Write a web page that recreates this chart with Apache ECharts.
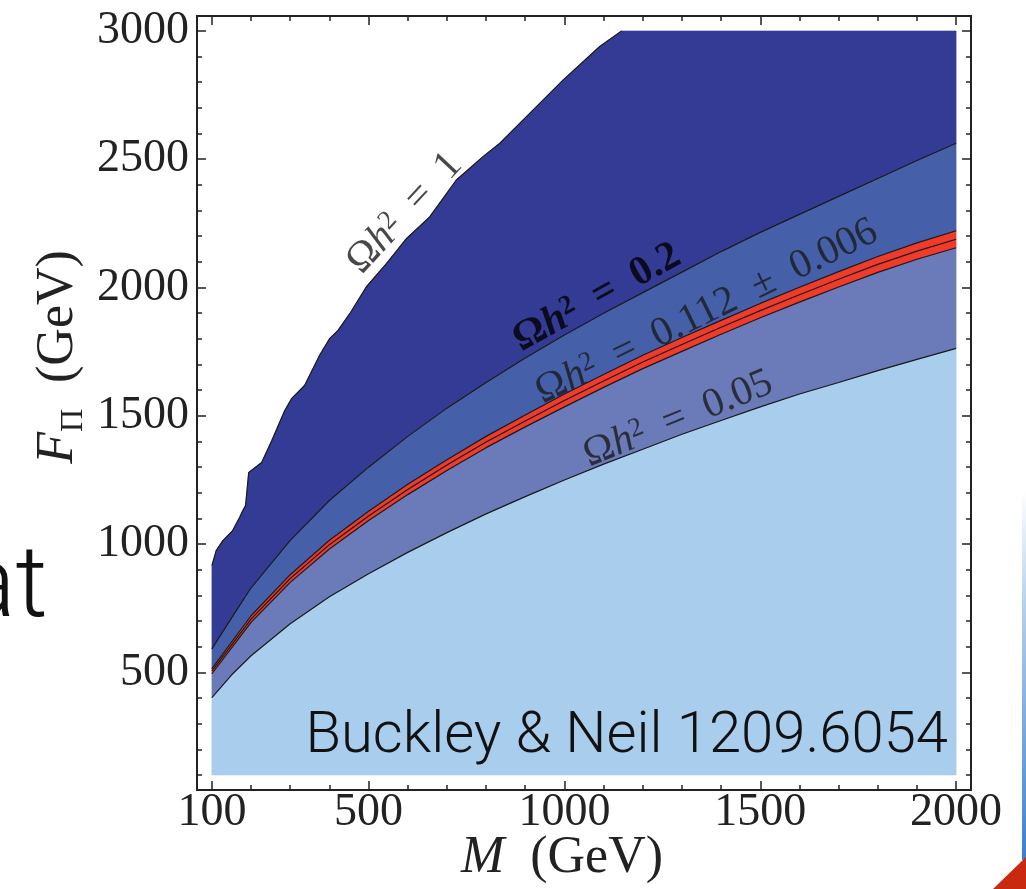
<!DOCTYPE html>
<html><head><meta charset="utf-8">
<script src="https://cdn.jsdelivr.net/npm/echarts@6/dist/echarts.min.js"></script>
<style>html,body{margin:0;padding:0;background:#fff}#c{width:1026px;height:889px}</style>
</head><body><div id="c"></div>
<script>
// ---- tick values ----
const xMajor = [100, 500, 1000, 1500, 2000];
const xMinor = [100,200,300,400,500,600,700,800,900,1000,1100,1200,1300,1400,1500,1600,1700,1800,1900,2000];
const yMajor = [500, 1000, 1500, 2000, 2500, 3000];
const yMinor = [100,200,300,400,500,600,700,800,900,1000,1100,1200,1300,1400,1500,1600,1700,1800,1900,2000,2100,2200,2300,2400,2500,2600,2700,2800,2900,3000];

// ---- contour curves [M, F_Pi] ----
const omega1 = [[100,916],[111,975],[128,1014],[153,1053],[171,1105],[179,1131],[186,1150],[194,1279],[227,1318],[253,1404],[286,1521],[304,1568],[337,1619],[375,1736],[401,1802],[422,1833],[452,1898],[494,2002],[546,2094],[597,2191],[656,2275],[724,2419],[792,2510],[835,2562],[903,2666],[997,2809],[1090,2939],[1146,3000]];
const omega02 = [[100,592],[150,712],[200,830],[300,1015],[400,1170],[500,1300],[600,1420],[700,1530],[800,1630],[900,1725],[1000,1815],[1100,1900],[1200,1980],[1300,2060],[1400,2140],[1500,2215],[1600,2285],[1700,2355],[1800,2425],[1900,2495],[2000,2562]];
const redUpper = [[100,515],[200,721],[300,881],[400,1015],[500,1128],[600,1233],[700,1329],[800,1420],[900,1503],[1000,1585],[1100,1661],[1200,1736],[1300,1805],[1400,1872],[1500,1938],[1600,2001],[1700,2062],[1800,2121],[1900,2174],[2000,2221]];
const redCentre = [[100,505],[200,708],[300,866],[400,998],[500,1110],[600,1213],[700,1308],[800,1398],[900,1480],[1000,1560],[1100,1636],[1200,1710],[1300,1778],[1400,1845],[1500,1910],[1600,1972],[1700,2032],[1800,2090],[1900,2142],[2000,2188]];
const redLower = [[100,495],[200,695],[300,851],[400,981],[500,1092],[600,1193],[700,1287],[800,1376],[900,1457],[1000,1535],[1100,1611],[1200,1684],[1300,1751],[1400,1818],[1500,1882],[1600,1943],[1700,2002],[1800,2059],[1900,2110],[2000,2155]];
const omega005 = [[100,402],[150,490],[200,565],[300,690],[400,795],[500,885],[600,968],[700,1045],[800,1118],[900,1185],[1000,1250],[1100,1312],[1200,1370],[1300,1428],[1400,1482],[1500,1535],[1600,1585],[1700,1630],[1800,1676],[1900,1720],[2000,1763]];
const scanFloor = [[100,100],[2000,100]];
const scanTopRight = [[2000,3000]];

// ---- curve labels (anchor in data coords) ----
const curveLabels = [
  {text:'{r|Ω}{i|h}{s|2}{r|\u2002=\u20021}', at:[592,2290], angle:47},
  {text:'{rb|Ω}{ib|h}{sb|2}{rb|\u2002=\u20020.2}', at:[1083,1960], angle:29},
  {text:'{r|Ω}{i|h}{s|2}{r|\u2002=\u20020.112\u2002±\u20020.006}', at:[1363,1905], angle:26},
  {text:'{r|Ω}{i|h}{s|2}{r|\u2002=\u20020.05}', at:[1290,1487], angle:22}
];

const bands = [
  {upper: omega005, lower: scanFloor, color:'#a9cdec'},
  {upper: redLower, lower: omega005, color:'#6b7ab8'},
  {upper: redUpper, lower: redLower, color:'#f03a2a'},
  {upper: omega02, lower: redUpper, color:'#4560a8'},
  {upper: omega1.concat(scanTopRight), lower: omega02, color:'#343b95'}
];

const serif = 'Liberation Serif';
const ink = '#1a1a1a';
const G = {left:197, top:16, width:774, height:774};

function fmt(v){ return String(Math.round(v)); }
function xAx(grid, pos, ticks, len, labels){
  return {type:'value', gridIndex:grid, position:pos, min:62, max:2038,
    axisLine:{show:true, onZero:false, lineStyle:{color:'#222', width:2}},
    axisTick:{show:true, inside:true, length:len, customValues:ticks, lineStyle:{color:'#222', width:1.5}},
    axisLabel:{show:labels, customValues:ticks, formatter:fmt, fontFamily:serif, fontSize:46, color:'#222', margin:0},
    splitLine:{show:false}};
}
function yAx(grid, pos, ticks, len, labels){
  return {type:'value', gridIndex:grid, position:pos, min:42, max:3058,
    axisLine:{show:true, onZero:false, lineStyle:{color:'#222', width:2}},
    axisTick:{show:true, inside:true, length:len, customValues:ticks, lineStyle:{color:'#222', width:1.5}},
    axisLabel:{show:labels, customValues:ticks, formatter:fmt, fontFamily:serif, fontSize:46, color:'#222', margin:8},
    splitLine:{show:false}};
}

function lineSeries(d){
  return {type:'line', xAxisIndex:0, yAxisIndex:0, data:d, symbol:'none', silent:true,
    lineStyle:{color:ink, width:1.2}, z:4, animation:false};
}

const FS = 41;
const labRich = {
  r:{fontFamily:serif, fontSize:FS, color:ink, lineHeight:FS},
  i:{fontFamily:serif, fontSize:FS, color:ink, fontStyle:'italic', lineHeight:FS},
  s:{fontFamily:serif, fontSize:27, color:ink, verticalAlign:'top', lineHeight:24},
  rb:{fontFamily:serif, fontSize:FS, color:'#000', fontWeight:'bold', lineHeight:FS},
  ib:{fontFamily:serif, fontSize:FS, color:'#000', fontWeight:'bold', fontStyle:'italic', lineHeight:FS},
  sb:{fontFamily:serif, fontSize:27, color:'#000', fontWeight:'bold', verticalAlign:'top', lineHeight:24}
};

const chart = echarts.init(document.getElementById('c'), null, {renderer:'canvas'});
chart.setOption({
  animation:false,
  backgroundColor:'#fff',
  grid:[Object.assign({}, G), Object.assign({}, G)],
  xAxis:[xAx(0,'bottom',xMajor,9,true), xAx(0,'top',xMajor,9,false), xAx(1,'bottom',xMinor,5,false), xAx(1,'top',xMinor,5,false)],
  yAxis:[yAx(0,'left',yMajor,9,true), yAx(0,'right',yMajor,9,false), yAx(1,'left',yMinor,5,false), yAx(1,'right',yMinor,5,false)],
  series:[
    {type:'custom', xAxisIndex:0, yAxisIndex:0, silent:true, z:2,
     data: bands.map((b,i)=>[i]),
     renderItem:function(params, api){
       const b = bands[params.dataIndex];
       const pts = b.upper.map(p=>api.coord(p)).concat(b.lower.slice().reverse().map(p=>api.coord(p)));
       return {type:'polygon', shape:{points:pts}, style:{fill:b.color, stroke:b.color, lineWidth:0.5}};
     }},
    lineSeries(omega1), lineSeries(omega02), lineSeries(redUpper), lineSeries(redCentre), lineSeries(redLower), lineSeries(omega005),
    {type:'scatter', xAxisIndex:0, yAxisIndex:0, symbolSize:1, silent:true, z:6,
     itemStyle:{color:'rgba(0,0,0,0)'},
     data: curveLabels.map(l=>({value:l.at, label:{formatter:l.text, rotate:l.angle}})),
     label:{show:true, position:'inside', rich:labRich}}
  ],
  graphic:[
    {type:'text', x:562, y:858, z:100, style:{text:'{i|M}{r|\u2002(GeV)}', align:'center', verticalAlign:'middle',
      rich:{i:{fontFamily:serif, fontSize:52, fontStyle:'italic', fill:'#222'}, r:{fontFamily:serif, fontSize:52, fill:'#222'}}}},
    {type:'text', x:58, y:357, rotation:Math.PI/2, z:100, style:{text:'{i|F}{s|Π}{r|\u2002(GeV)}', align:'center', verticalAlign:'middle',
      rich:{i:{fontFamily:serif, fontSize:52, fontStyle:'italic', fill:'#222', lineHeight:64}, s:{fontFamily:serif, fontSize:32, fill:'#222', verticalAlign:'bottom', lineHeight:40}, r:{fontFamily:serif, fontSize:52, fill:'#222', lineHeight:64}}}},
    {type:'text', x:948, y:737, z:100, style:{text:'Buckley & Neil 1209.6054', align:'right', verticalAlign:'middle',
      font:'300 58px Roboto', fill:'#111'}},
    {type:'text', x:-38, y:591, z:100, style:{text:'at', align:'left', verticalAlign:'middle', font:'300 100px Roboto', fill:'#111'}},
    {type:'rect', z:100, shape:{x:1022, y:490, width:4, height:370},
      style:{fill:new echarts.graphic.LinearGradient(0,0,0,1,[{offset:0,color:'#ffffff'},{offset:0.3,color:'#b8d2ee'},{offset:1,color:'#3a7fcc'}])}},
    {type:'polygon', z:100, shape:{points:[[993,889],[1026,857],[1026,889]]}, style:{fill:'#c8290f'}}
  ]
});
</script></body></html>
